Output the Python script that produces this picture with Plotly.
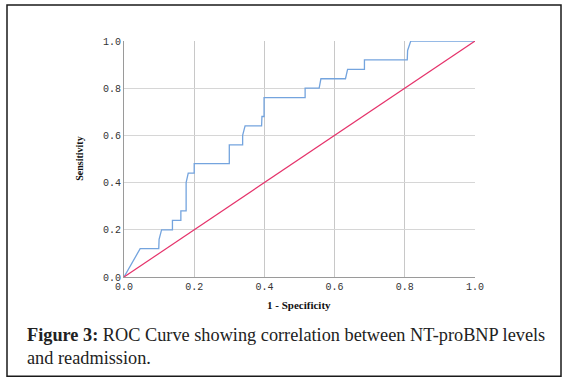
import plotly.graph_objects as go

# ROC curve points (1 - specificity, sensitivity)
fpr = [0.0, 0.015, 0.031, 0.046, 0.099, 0.100, 0.107, 0.138, 0.138, 0.162, 0.162,
       0.177, 0.177, 0.183, 0.200, 0.200, 0.300, 0.300, 0.338, 0.338, 0.345,
       0.392, 0.393, 0.399, 0.399, 0.516, 0.516, 0.556, 0.561, 0.631, 0.637,
       0.685, 0.685, 0.807, 0.808, 0.817, 1.0]
tpr = [0.0, 0.04, 0.08, 0.12, 0.12, 0.16, 0.20, 0.20, 0.24, 0.24, 0.28,
       0.28, 0.40, 0.44, 0.44, 0.48, 0.48, 0.56, 0.56, 0.60, 0.64,
       0.64, 0.68, 0.68, 0.76, 0.76, 0.80, 0.80, 0.84, 0.84, 0.88,
       0.88, 0.92, 0.92, 0.96, 1.0, 1.0]
ref_x = [0.0, 1.0]
ref_y = [0.0, 1.0]
tick_vals = [0.0, 0.2, 0.4, 0.6, 0.8, 1.0]
tick_text = ["0.0", "0.2", "0.4", "0.6", "0.8", "1.0"]

caption_bold = "Figure 3:"
caption_rest = " ROC Curve showing correlation between NT-proBNP levels"
caption_line2 = "and readmission."

fig = go.Figure()
fig.add_trace(go.Scatter(x=fpr, y=tpr, mode="lines",
                         line=dict(color="#74a4de", width=1.3), hoverinfo="skip"))
fig.add_trace(go.Scatter(x=ref_x, y=ref_y, mode="lines",
                         line=dict(color="#e5336b", width=1.2), hoverinfo="skip"))

W, H = 570, 386
L, R, T, B = 124, 475, 41, 277.5
pw, ph = R - L, B - T


def px(x):
    return (x - L) / pw


def py(y):
    return (B - y) / ph


tickfont = dict(family="Liberation Mono", size=10, color="#333333")
fig.update_layout(
    width=W, height=H,
    margin=dict(l=L, r=W - R, t=T, b=H - B, pad=0),
    paper_bgcolor="white", plot_bgcolor="white",
    showlegend=False,
    xaxis=dict(range=[0, 1], tickvals=tick_vals, ticktext=tick_text,
               showgrid=True, gridcolor="#c8c8c8", gridwidth=1,
               showline=True, linecolor="#9a9a9a", linewidth=1,
               zeroline=False, ticks="", tickfont=tickfont, fixedrange=True),
    yaxis=dict(range=[0, 1], tickvals=tick_vals, ticktext=tick_text,
               showgrid=True, gridcolor="#d6d6d6", gridwidth=1,
               showline=True, linecolor="#9a9a9a", linewidth=1,
               zeroline=False, ticks="", tickfont=tickfont, fixedrange=True),
)

# outer frame around figure + caption
fig.add_shape(type="rect", xref="paper", yref="paper",
              x0=px(7), x1=px(561), y0=py(377), y1=py(5),
              line=dict(color="#1a1a1a", width=1.5), fillcolor="rgba(0,0,0,0)")

fig.add_annotation(xref="paper", yref="paper", x=px(299), y=py(306),
                   text="<b>1 - Specificity</b>", showarrow=False,
                   font=dict(family="Liberation Serif", size=11, color="#111"),
                   xanchor="center", yanchor="middle")
fig.add_annotation(xref="paper", yref="paper", x=px(80), y=py(159),
                   text="<b>Sensitivity</b>", showarrow=False, textangle=-90,
                   font=dict(family="Liberation Serif", size=10, color="#111"),
                   xanchor="center", yanchor="middle")

capfont = dict(family="Liberation Serif", size=18.3, color="#222")
fig.add_annotation(xref="paper", yref="paper", x=px(25), y=py(336),
                   text="<b>" + caption_bold + "</b>" + caption_rest, showarrow=False,
                   font=capfont, xanchor="left", yanchor="middle", align="left")
fig.add_annotation(xref="paper", yref="paper", x=px(25), y=py(359),
                   text=caption_line2, showarrow=False,
                   font=capfont, xanchor="left", yanchor="middle", align="left")

fig.write_html("out.html", config={"displayModeBar": False},
               post_script="document.body.style.margin='0px';")
